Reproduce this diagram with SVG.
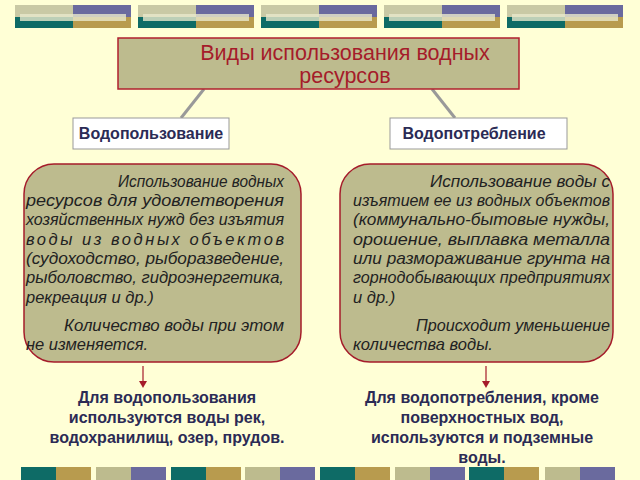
<svg xmlns="http://www.w3.org/2000/svg" width="640" height="480" viewBox="0 0 640 480">
<style>
.it{font-family:"Liberation Sans",Arial,sans-serif;font-size:16.5px;font-style:italic;fill:#222}
.bd{font-family:"Liberation Sans",Arial,sans-serif;font-size:16px;font-weight:bold;fill:#2b2b55;text-anchor:middle}
.card{fill:#bdbb8e;stroke:#a51c2a;stroke-width:1.5}
</style>
<defs>
<g id="tb">
<rect x="0" y="0" width="58" height="12" fill="#c9c9a5"/><rect x="58" y="0" width="58" height="12" fill="#6a6a9e"/>
<rect x="0" y="12" width="58" height="11" fill="#0e6b66"/><rect x="58" y="12" width="58" height="11" fill="#b89b4e"/>
<rect x="5" y="9" width="106" height="7" fill="#e8e8cc" opacity="0.8"/>
</g>
</defs>
<rect width="640" height="480" fill="#ffffd6"/>
<g id="deco">
<use href="#tb" x="15" y="5"/><use href="#tb" x="138" y="5"/><use href="#tb" x="261" y="5"/><use href="#tb" x="384" y="5"/><use href="#tb" x="507" y="5"/>
<rect x="21" y="467" width="35" height="13" fill="#0e6b66"/><rect x="56" y="467" width="35" height="13" fill="#b89b4e"/>
<rect x="96" y="467" width="35" height="13" fill="#bdbb8e"/><rect x="131" y="467" width="35" height="13" fill="#6a6a9e"/>
<rect x="171" y="467" width="35" height="13" fill="#0e6b66"/><rect x="206" y="467" width="35" height="13" fill="#b89b4e"/>
<rect x="245" y="467" width="35" height="13" fill="#bdbb8e"/><rect x="280" y="467" width="35" height="13" fill="#6a6a9e"/>
<rect x="320" y="467" width="35" height="13" fill="#0e6b66"/><rect x="355" y="467" width="35" height="13" fill="#b89b4e"/>
<rect x="395" y="467" width="35" height="13" fill="#bdbb8e"/><rect x="430" y="467" width="35" height="13" fill="#6a6a9e"/>
<rect x="469" y="467" width="35" height="13" fill="#0e6b66"/><rect x="504" y="467" width="35" height="13" fill="#b89b4e"/>
<rect x="545" y="467" width="35" height="13" fill="#bdbb8e"/><rect x="580" y="467" width="35" height="13" fill="#6a6a9e"/>
</g>
<g id="connectors">
<path d="M204,89 L181,118" stroke="#999" stroke-width="3"/>
<path d="M432,89 L455,118" stroke="#999" stroke-width="3"/>
<path d="M143,366 L143,386" stroke="#a51c2a" stroke-width="1.2"/><path d="M139,381 L143,388 L147,381 Z" fill="#a51c2a"/>
<path d="M486,366 L486,386" stroke="#a51c2a" stroke-width="1.2"/><path d="M482,381 L486,388 L490,381 Z" fill="#a51c2a"/>
</g>
<g id="title">
<rect x="118" y="38" width="401" height="51" fill="#bdbb8e" stroke="#b0202e" stroke-width="1.5"/>
<text x="345" y="60" font-family="'Liberation Sans',Arial,sans-serif" font-size="21.5" fill="#a51c2a" text-anchor="middle">Виды использования водных</text>
<text x="345" y="83" font-family="'Liberation Sans',Arial,sans-serif" font-size="21.5" fill="#a51c2a" text-anchor="middle">ресурсов</text>
</g>
<g id="n1"><rect x="73" y="118" width="156" height="31" fill="#fff" stroke="#999"/><text x="151" y="139" class="bd" font-size="15.3">Водопользование</text></g>
<g id="n2"><rect x="390" y="118" width="177" height="31" fill="#fff" stroke="#999"/><text x="474" y="139" class="bd" font-size="15.3">Водопотребление</text></g>
<g id="c1"><rect x="24" y="164" width="277" height="198" rx="30" class="card"/>
<text class="it"><tspan x="118" y="187" textLength="166" lengthAdjust="spacingAndGlyphs">Использование водных</tspan>
<tspan x="26" y="206" textLength="258" lengthAdjust="spacingAndGlyphs">ресурсов для удовлетворения</tspan>
<tspan x="26" y="225" textLength="258" lengthAdjust="spacingAndGlyphs">хозяйственных нужд без изъятия</tspan>
<tspan x="26" y="245" textLength="258" lengthAdjust="spacing">воды из водных объектов</tspan>
<tspan x="26" y="264" textLength="258" lengthAdjust="spacingAndGlyphs">(судоходство, рыборазведение,</tspan>
<tspan x="26" y="283" textLength="258" lengthAdjust="spacingAndGlyphs">рыболовство, гидроэнергетика,</tspan>
<tspan x="26" y="303">рекреация и др.)</tspan>
<tspan x="64" y="331" textLength="220" lengthAdjust="spacingAndGlyphs">Количество воды при этом</tspan>
<tspan x="26" y="350">не изменяется.</tspan></text></g>
<g id="c2"><rect x="340" y="164" width="273" height="198" rx="30" class="card"/>
<text class="it"><tspan x="430" y="187" textLength="180" lengthAdjust="spacingAndGlyphs">Использование воды с</tspan>
<tspan x="353" y="206" textLength="257" lengthAdjust="spacingAndGlyphs">изъятием ее из водных объектов</tspan>
<tspan x="353" y="225" textLength="257" lengthAdjust="spacingAndGlyphs">(коммунально-бытовые нужды,</tspan>
<tspan x="353" y="245" textLength="257" lengthAdjust="spacingAndGlyphs">орошение, выплавка металла</tspan>
<tspan x="353" y="264" textLength="257" lengthAdjust="spacingAndGlyphs">или размораживание грунта на</tspan>
<tspan x="353" y="283" textLength="257" lengthAdjust="spacingAndGlyphs">горнодобывающих предприятиях</tspan>
<tspan x="353" y="303">и др.)</tspan>
<tspan x="416" y="331" textLength="194" lengthAdjust="spacingAndGlyphs">Происходит уменьшение</tspan>
<tspan x="353" y="350">количества воды.</tspan></text></g>
<g id="r1"><text class="bd"><tspan x="167" y="403">Для водопользования</tspan><tspan x="167" y="423">используются воды рек,</tspan><tspan x="167" y="443">водохранилищ, озер, прудов.</tspan></text></g>
<g id="r2"><text class="bd"><tspan x="482" y="403">Для водопотребления, кроме</tspan><tspan x="482" y="423">поверхностных вод,</tspan><tspan x="482" y="443">используются и подземные</tspan><tspan x="482" y="463">воды.</tspan></text></g>
</svg>
